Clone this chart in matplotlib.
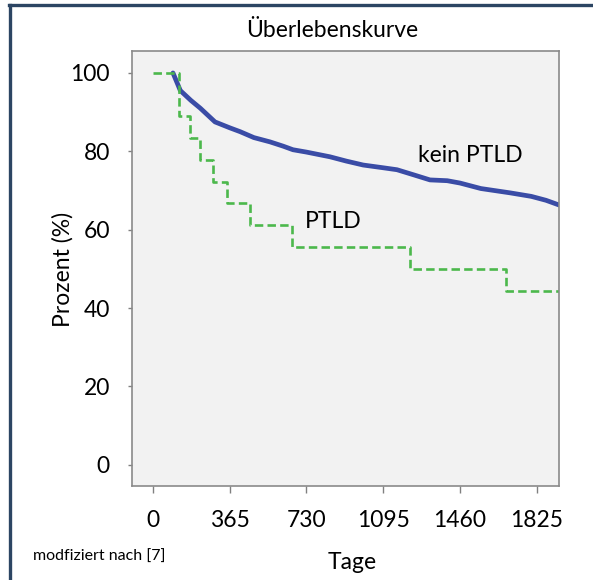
import matplotlib
matplotlib.use("Agg")
import matplotlib.pyplot as plt
from matplotlib.lines import Line2D

plt.rcParams['font.family'] = ['Lato', 'DejaVu Sans']

# kein PTLD
tage_kein = [95, 130, 180, 225, 295, 365, 415, 480, 557, 620, 666, 730, 842, 920,
             1000, 1095, 1161, 1240, 1318, 1400, 1461, 1560, 1699, 1800, 1870, 1932]
proz_kein = [100, 95.5, 93, 91, 87.5, 86, 85, 83.5, 82.4, 81.3, 80.4, 79.8, 78.6, 77.5,
             76.5, 75.8, 75.3, 74, 72.7, 72.5, 71.9, 70.5, 69.4, 68.5, 67.5, 66.3]

# PTLD Stufen
tage_ptld = [0, 124, 176, 224, 286, 352, 462, 661, 1223, 1680, 1932]
proz_ptld = [100, 88.9, 83.3, 77.8, 72.2, 66.7, 61.1, 55.6, 50.0, 44.4, 44.4]

xticks = [0, 365, 730, 1095, 1460, 1825]
yticks = [0, 20, 40, 60, 80, 100]

fig = plt.figure(figsize=(5.93, 5.80), dpi=100)
ax = fig.add_axes([0.2226, 0.1621, 0.7201, 0.75])
ax.set_facecolor('#f2f2f2')

ax.plot(tage_kein, proz_kein, color='#3a4ca6', lw=3.4, solid_capstyle='round')
ax.step(tage_ptld, proz_ptld, where='post', color='#4cb84c', lw=1.9,
        dashes=(3.2, 1.6))

ax.set_xlim(-100, 1932)
ax.set_ylim(-5.4, 105.6)
ax.set_xticks(xticks)
ax.set_yticks(yticks)
ax.tick_params(axis='y', length=3, width=1, color='#808080', labelsize=16.5, pad=13)
ax.tick_params(axis='x', length=5, width=1, color='#808080', labelsize=16.5, pad=12)
for s in ax.spines.values():
    s.set_color('#8a8a8a')
    s.set_linewidth(1.2)

ax.text(1261, 79, 'kein PTLD', fontsize=16.5, va='center', ha='left')
ax.text(723, 62, 'PTLD', fontsize=16.5, va='center', ha='left')

fig.text(0.56, 0.948, 'Überlebenskurve', fontsize=16.5, ha='center', va='center')
fig.text(0.106, 0.535, 'Prozent (%)', fontsize=16.5, rotation=90, ha='center', va='center')
fig.text(0.594, 0.031, 'Tage', fontsize=16.5, ha='center', va='center')
fig.text(0.056, 0.040, 'modfiziert nach [7]', fontsize=11.5, ha='left', va='center')

# Rahmen oben und links
fig.add_artist(Line2D([0.0165, 0.0165], [0.0, 0.9915], transform=fig.transFigure,
                      color='#2c4563', lw=2.4))
fig.add_artist(Line2D([0.0145, 1.0], [0.9915, 0.9915], transform=fig.transFigure,
                      color='#2c4563', lw=2.4))

fig.savefig('out.png', dpi=100)
